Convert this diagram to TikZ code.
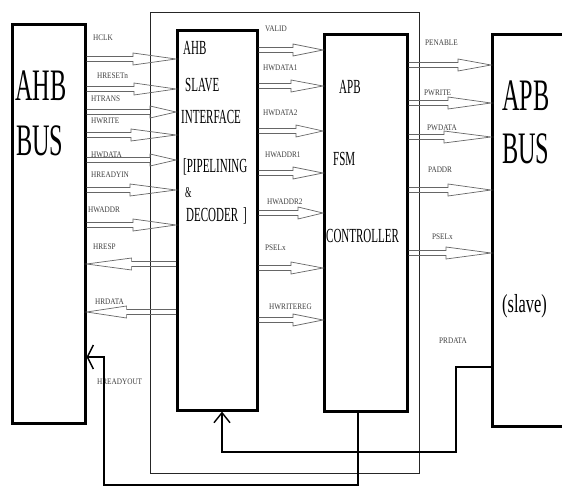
\documentclass[tikz,border=0pt]{standalone}
\usepackage{fontspec}
\setmainfont{Liberation Serif}
\newfontfamily\condbig[FakeStretch=0.54]{Liberation Serif}
\newfontfamily\condmid[FakeStretch=0.55]{Liberation Serif}
\newfontfamily\condsl[FakeStretch=0.63]{Liberation Serif}
\newfontfamily\condsmall[FakeStretch=0.85]{Liberation Serif}
\usetikzlibrary{arrows.meta,calc}
\tikzset{
  box/.style={draw, line width=2.6pt, anchor=north west, inner sep=0, fill=white},
  frame/.style={draw=black!85, line width=1.3pt, anchor=north west, inner sep=0},
  bigtxt/.style={anchor=base west, inner sep=0, font=\condbig\fontsize{45}{45}\selectfont},
  midtxt/.style={anchor=base west, inner sep=0, font=\condmid\fontsize{20}{20}\selectfont},
  sig/.style={anchor=west, inner sep=0, text=black!75, font=\condsmall\fontsize{8.5}{9}\selectfont},
  busarrow/.style={draw=black!60, line width=0.7pt, line join=miter},
  fbline/.style={draw, line width=1.8pt},
}
\newcommand{\barR}[4]{%
  \path (#1.east |- 0,#3) coordinate (bs) (#2.west |- 0,#3) coordinate (bt);
  \draw[busarrow] ($(bs)+(0,2.5)$) -- ($(bt)+(-#4,2.5)$) -- ($(bt)+(-#4,6)$) -- (bt)
     -- ($(bt)+(-#4,-6)$) -- ($(bt)+(-#4,-2.5)$) -- ($(bs)+(0,-2.5)$);}
\newcommand{\barL}[4]{%
  \path (#1.west |- 0,#3) coordinate (bs) (#2.east |- 0,#3) coordinate (bt);
  \draw[busarrow] ($(bs)+(0,2.5)$) -- ($(bt)+(#4,2.5)$) -- ($(bt)+(#4,6)$) -- (bt)
     -- ($(bt)+(#4,-6)$) -- ($(bt)+(#4,-2.5)$) -- ($(bs)+(0,-2.5)$);}
\begin{document}
\begin{tikzpicture}[x=1pt,y=-1pt]
\useasboundingbox[fill=white] (0,0) rectangle (562,487);
% outer frame
\node[frame, minimum width=269pt, minimum height=461pt] (outer) at (150,12) {};
% boxes
\node[box, minimum width=73pt, minimum height=399pt] (ahbbus) at (11,23) {};
\node[box, minimum width=80pt, minimum height=380pt] (slave) at (176,29) {};
\node[box, minimum width=83pt, minimum height=377pt] (ctrl) at (323,33) {};
\node[box, minimum width=80pt, minimum height=392pt] (apbbus) at (491,33) {};
% big texts
\node[bigtxt] (t1) at (15,100) {AHB};
\node[bigtxt] (t2) at (16,155) {BUS};
\node[bigtxt] (t3) at (502,110) {APB};
\node[bigtxt] (t4) at (502,163) {BUS};
\node[anchor=base west, inner sep=0, font=\condsl\fontsize{26}{26}\selectfont] (t5) at (502,312) {(slave)};
\node[midtxt] (s1) at (183,55) {AHB};
\node[midtxt] (s2) at (185,92) {SLAVE};
\node[midtxt] (s3) at (181,123) {INTERFACE};
\node[midtxt] (s4) at (183,172) {[PIPELINING};
\node[midtxt, font=\condmid\fontsize{15}{15}\selectfont] (s5) at (185,197) {\&};
\node[midtxt] (s6) at (186,221) {DECODER\hspace{5pt}]};
\node[midtxt] (c1) at (339,93) {APB};
\node[midtxt] (c2) at (333,165) {FSM};
\node[midtxt] (c3) at (326,242) {CONTROLLER};
% signal labels left
\node[sig] (l1) at (93,38) {HCLK};
\node[sig] (l2) at (97,76) {HRESETn};
\node[sig] (l3) at (91,99) {HTRANS};
\node[sig] (l4) at (91,121) {HWRITE};
\node[sig] (l5) at (91,155) {HWDATA};
\node[sig] (l6) at (91,175) {HREADYIN};
\node[sig] (l7) at (88,210) {HWADDR};
\node[sig] (l8) at (93,247) {HRESP};
\node[sig] (l9) at (95,302) {HRDATA};
\node[sig] (l10) at (97,382) {HREADYOUT};
% middle labels
\node[sig] (m1) at (265,29) {VALID};
\node[sig] (m2) at (263,68) {HWDATA1};
\node[sig] (m3) at (263,113) {HWDATA2};
\node[sig] (m4) at (265,155) {HWADDR1};
\node[sig] (m5) at (267,202) {HWADDR2};
\node[sig] (m6) at (265,248) {PSELx};
\node[sig] (m7) at (269,307) {HWRITEREG};
% right labels
\node[sig] (r1) at (425,43) {PENABLE};
\node[sig] (r2) at (424,93) {PWRITE};
\node[sig] (r3) at (427,128) {PWDATA};
\node[sig] (r4) at (428,170) {PADDR};
\node[sig] (r5) at (432,237) {PSELx};
\node[sig] (r6) at (439,341) {PRDATA};
% bus arrows left
\barR{ahbbus}{slave}{59}{43}
\barR{ahbbus}{slave}{89}{42}
\barR{ahbbus}{slave}{112}{26}
\barR{ahbbus}{slave}{135}{45}
\barR{ahbbus}{slave}{160}{26}
\barR{ahbbus}{slave}{190}{46}
\barR{ahbbus}{slave}{225}{43}
\barL{slave}{ahbbus}{264}{45}
\barL{slave}{ahbbus}{312}{40}
% middle
\barR{slave}{ctrl}{50}{30}
\barR{slave}{ctrl}{86}{32}
\barR{slave}{ctrl}{131}{27}
\barR{slave}{ctrl}{173}{30}
\barR{slave}{ctrl}{213}{25}
\barR{slave}{ctrl}{268}{32}
\barR{slave}{ctrl}{320}{30}
% right
\barR{ctrl}{apbbus}{65}{33}
\barR{ctrl}{apbbus}{103}{43}
\barR{ctrl}{apbbus}{137}{47}
\barR{ctrl}{apbbus}{190}{43}
\barR{ctrl}{apbbus}{253}{45}
% feedback lines
\draw[fbline, -{Straight Barb[length=10pt,width=16pt,line width=1.4pt]}]
  (apbbus.west |- 0,367) -- (456,367) -- (456,452) -- (222,452) -- (slave.south -| 222,0);
\draw[fbline, -{Straight Barb[length=6pt,width=24pt,line width=1.4pt]}]
  (ctrl.south -| 358,0) -- (358,485) -- (104,485) -- (104,357) -- (ahbbus.east |- 0,357);
\end{tikzpicture}
\end{document}
